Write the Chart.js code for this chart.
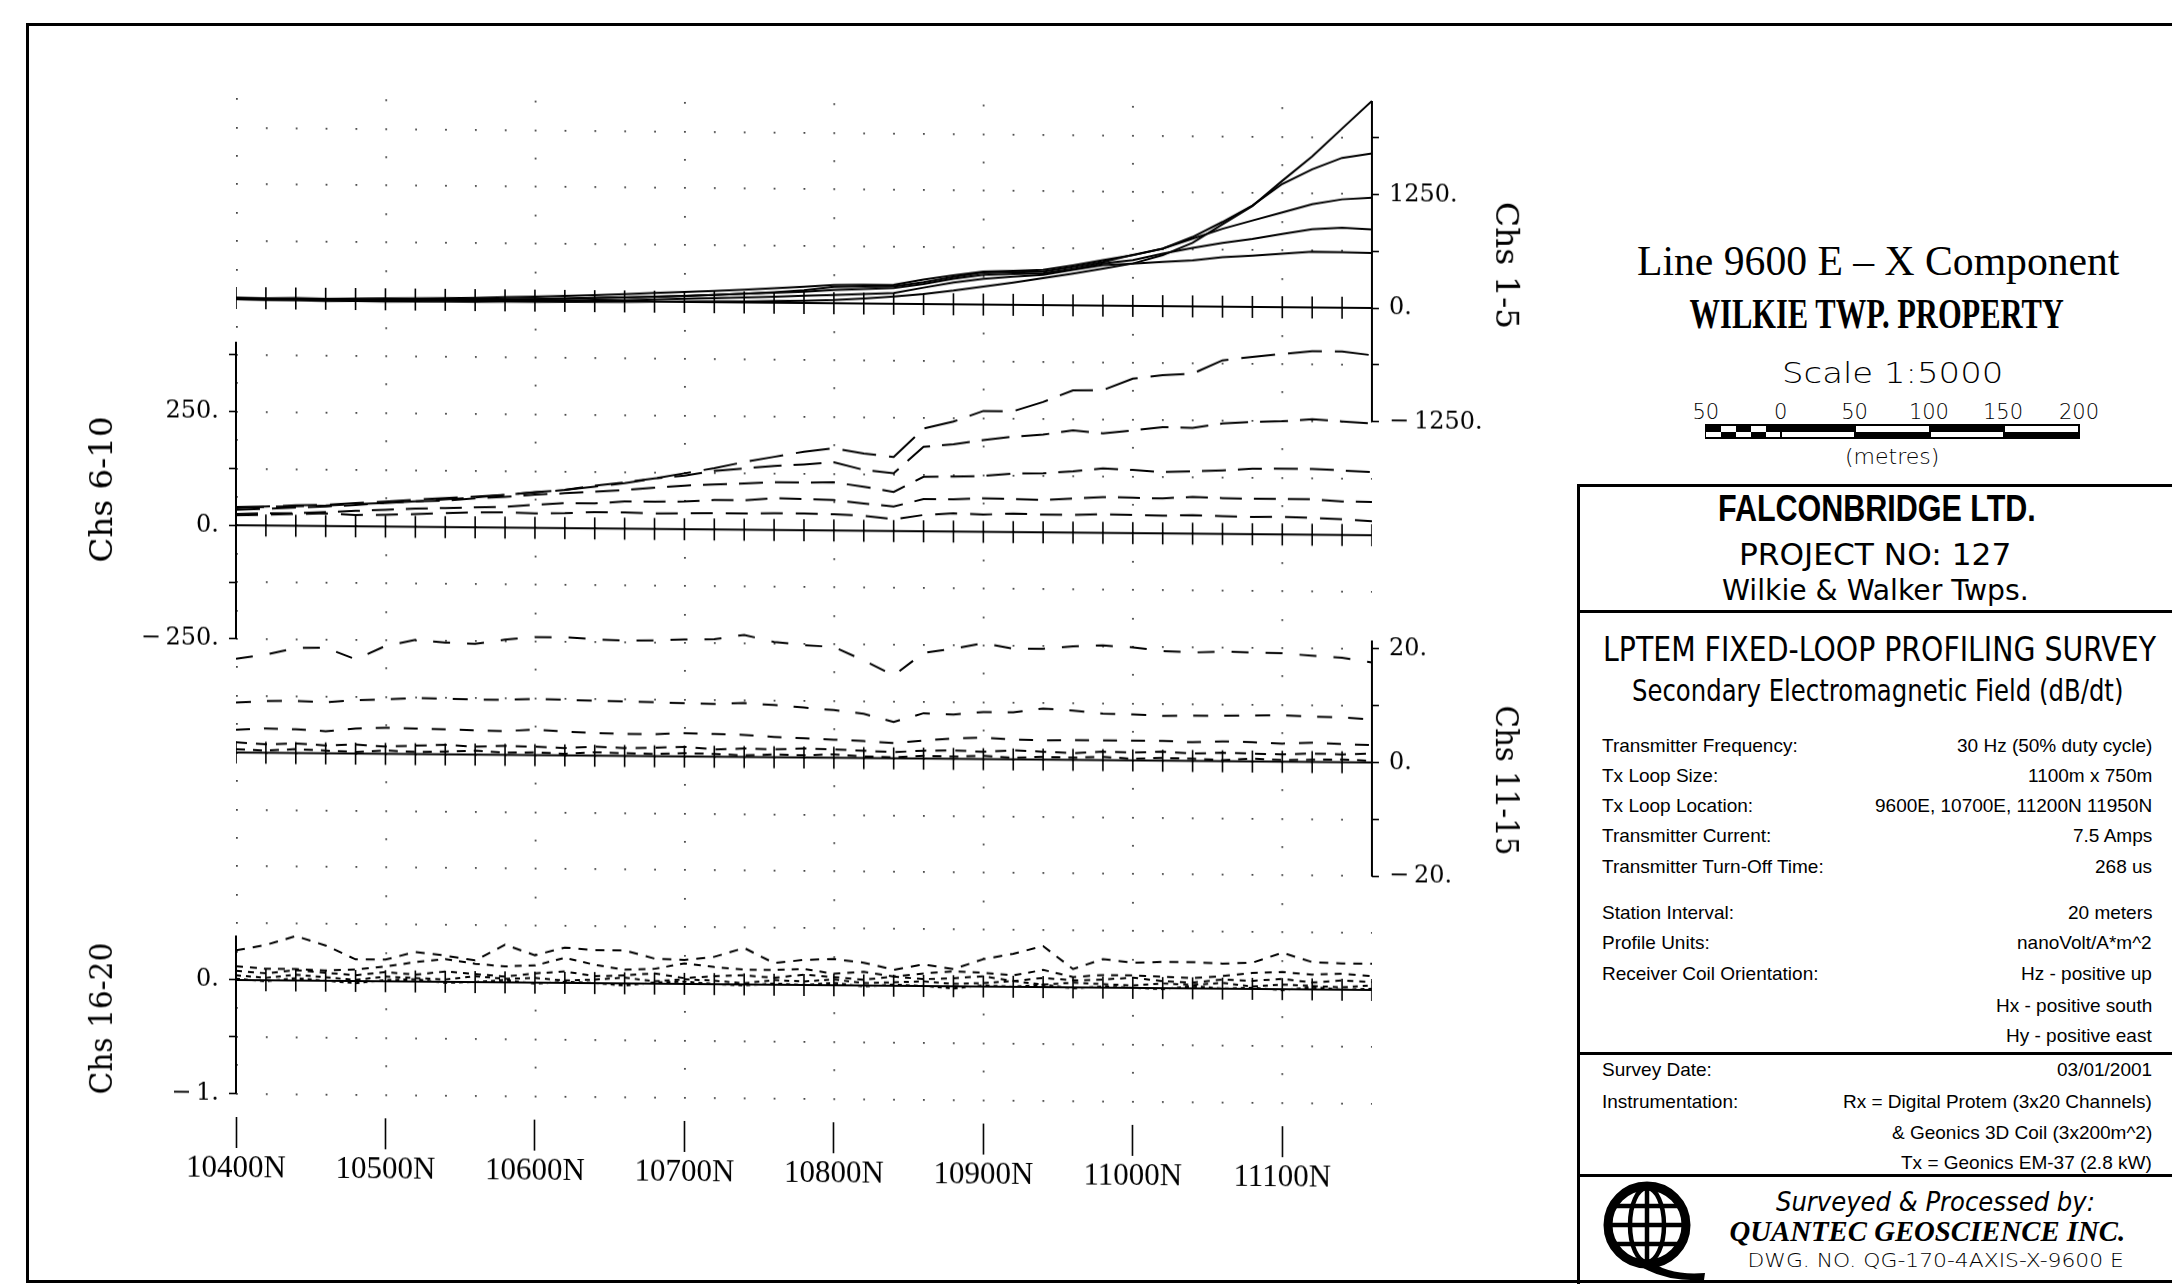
<!DOCTYPE html>
<html>
<head>
<meta charset="utf-8">
<script src="https://cdn.jsdelivr.net/npm/chart.js@4.4.1/dist/chart.umd.min.js"></script>
<style>
  html, body { margin: 0; padding: 0; background: #fff; }
  #page { position: relative; width: 2172px; height: 1287px; overflow: hidden; background: #fff; }
  /* the scanned sheet is slightly sheared: horizontal lines drop ~10px over the profile width */
  #plot { position: absolute; left: 0; top: 0; transform-origin: 236px 0; transform: skewY(0.504deg); }
  #frame { position: absolute; left: 26px; top: 23px; width: 2200px; height: 1260px;
           border: 3px solid #000; border-right: none; box-sizing: border-box; }
  .rule { position: absolute; background: #000; }
  .t { position: absolute; white-space: nowrap; color: #000; }
  .seg { position: absolute; }
</style>
</head>
<body>
<div id="page">
  <div id="frame"></div>
  <canvas id="plot" width="1560" height="1287"></canvas>

  <!-- title block rules -->
  <div class="rule" style="left:1577px;top:484px;width:3px;height:800px"></div>
  <div class="rule" style="left:1577px;top:484px;width:600px;height:3px"></div>
  <div class="rule" style="left:1577px;top:610px;width:600px;height:3px"></div>
  <div class="rule" style="left:1577px;top:1052px;width:600px;height:3px"></div>
  <div class="rule" style="left:1577px;top:1174px;width:600px;height:3px"></div>

  <svg style="position:absolute;left:1597px;top:1181px" width="110" height="100" viewBox="0 0 110 100">
    <g fill="none" stroke="#000">
      <circle cx="50" cy="44" r="39" stroke-width="9"/>
      <ellipse cx="50" cy="44" rx="17" ry="37" stroke-width="4.5"/>
      <line x1="50" y1="7" x2="50" y2="81" stroke-width="4.5"/>
      <line x1="11" y1="44" x2="89" y2="44" stroke-width="4.5"/>
      <line x1="16" y1="25" x2="84" y2="25" stroke-width="4.5"/>
      <line x1="16" y1="63" x2="84" y2="63" stroke-width="4.5"/>
    </g>
    <path d="M52 79 Q72 95 108 92 L107 99 Q68 101 43 85 Z" fill="#000"/>
  </svg>
</div>

<script>
// stations along the line (northing, m)
const stations = [10400, 10420, 10440, 10460, 10480, 10500, 10520, 10540, 10560, 10580,
  10600, 10620, 10640, 10660, 10680, 10700, 10720, 10740, 10760, 10780,
  10800, 10820, 10840, 10860, 10880, 10900, 10920, 10940, 10960, 10980,
  11000, 11020, 11040, 11060, 11080, 11100, 11120, 11140, 11160];
const xTicks = [10400, 10500, 10600, 10700, 10800, 10900, 11000, 11100];

// Chs 1-5
const ch1 = [-15, -20, -18, -25, -22, -25, -22, -20, -18, -15, -15, -12, -8, -5, 0, 5, 8, 12, 18, 25,
  35, 55, 80, 110, 150, 199, 245, 296, 350, 408, 466, 560, 700, 907, 1110, 1390, 1660, 1970, 2277];
const ch2 = [0, -5, 0, -8, -5, -5, 0, 5, 10, 15, 20, 28, 35, 45, 55, 65, 80, 95, 115, 140,
  180, 186, 193, 240, 300, 353, 360, 369, 420, 482, 560, 632, 764, 932, 1116, 1355, 1520, 1648, 1700];
const ch3 = [5, 0, 5, 0, 5, 10, 15, 20, 25, 35, 45, 55, 65, 80, 95, 110, 125, 140, 160, 180,
  200, 205, 210, 270, 320, 364, 375, 387, 440, 500, 557, 633, 745, 857, 950, 1043, 1135, 1192, 1212];
const ch4 = [-5, -10, -5, -10, -5, -5, 0, 5, 10, 15, 20, 25, 35, 45, 55, 65, 80, 95, 110, 125,
  145, 160, 174, 220, 280, 328, 340, 350, 400, 464, 503, 578, 643, 702, 748, 805, 860, 880, 863];
const ch5 = [-10, -15, -10, -15, -15, -10, -10, -5, -5, 0, 0, 5, 10, 15, 25, 35, 45, 55, 65, 80,
  92, 105, 119, 180, 240, 284, 310, 332, 390, 445, 466, 486, 506, 545, 564, 588, 613, 611, 606];

// Chs 6-10
const ch6 = [40, 42, 45, 47, 51, 55, 60, 64, 68, 72, 79, 84, 92, 100, 111, 123, 135, 149, 161, 173,
  181, 170, 163, 226, 242, 266, 266, 287, 313, 314, 340, 348, 352, 382, 390, 397, 404, 404, 396];
const ch7 = [38, 41, 43, 45, 49, 52, 56, 61, 66, 72, 78, 84, 94, 102, 111, 118, 129, 135, 141, 145,
  150, 134, 127, 186, 192, 202, 210, 215, 225, 219, 226, 234, 233, 243, 247, 249, 254, 250, 246];
const ch8 = [34, 37, 40, 43, 47, 52, 56, 58, 64, 68, 73, 77, 81, 85, 91, 96, 99, 102, 105, 105,
  106, 97, 86, 120, 121, 123, 129, 130, 135, 142, 139, 135, 137, 140, 144, 145, 145, 142, 139];
const ch9 = [25, 27, 28, 31, 34, 37, 40, 42, 44, 46, 51, 55, 55, 60, 60, 61, 65, 65, 70, 69,
  67, 60, 54, 71, 71, 74, 73, 71, 75, 79, 78, 77, 81, 79, 78, 78, 78, 74, 73];
const ch10 = [22, 24, 26, 28, 25, 26, 28, 31, 33, 34, 32, 33, 36, 36, 34, 35, 36, 36, 37, 37,
  36, 33, 26, 36, 40, 38, 41, 39, 39, 41, 40, 39, 41, 39, 38, 39, 37, 35, 31];

// Chs 11-15
const ch11 = [16.5, 17.3, 18.5, 18.6, 16.6, 19.0, 20.1, 19.7, 19.5, 20.3, 20.8, 20.8, 20.5, 20.3, 20.4,
  20.6, 20.7, 21.5, 20.3, 19.8, 19.5, 17.2, 14.6, 18.6, 19.4, 20.4, 19.5, 19.5, 20.0, 20.2,
  19.9, 19.3, 19.1, 19.3, 19.2, 19.1, 18.7, 18.4, 17.6];
const ch12 = [8.8, 9.1, 9.2, 9.0, 9.4, 9.6, 9.9, 9.8, 9.7, 9.7, 9.9, 9.8, 9.7, 9.6, 9.5,
  9.4, 9.3, 9.5, 9.2, 8.8, 8.4, 7.8, 6.4, 8.0, 7.8, 8.3, 8.3, 9.0, 8.7, 8.2,
  8.1, 7.9, 8.0, 8.0, 8.1, 8.2, 8.0, 7.9, 7.6];
const ch13 = [4.0, 4.3, 4.2, 3.9, 4.4, 4.6, 4.5, 4.4, 4.3, 4.2, 4.5, 4.2, 4.0, 3.9, 3.9,
  4.1, 4.0, 3.9, 3.6, 3.4, 3.2, 3.0, 2.7, 3.2, 3.6, 3.8, 3.5, 3.4, 3.5, 3.5,
  3.5, 3.5, 3.3, 3.5, 3.4, 3.2, 3.4, 3.2, 3.1];
const ch14 = [1.8, 1.5, 1.7, 1.4, 1.6, 1.3, 1.5, 1.7, 1.4, 1.6, 1.5, 1.3, 1.6, 1.4, 1.5,
  1.7, 1.3, 1.5, 1.4, 1.6, 1.5, 1.3, 1.1, 1.4, 1.5, 1.3, 1.6, 1.4, 1.2, 1.5,
  1.4, 1.6, 1.3, 1.5, 1.4, 1.3, 1.5, 1.4, 1.6];
const ch15 = [0.6, 0.4, 0.7, 0.5, 0.3, 0.6, 0.4, 0.5, 0.7, 0.4, 0.5, 0.3, 0.6, 0.5, 0.4,
  0.6, 0.5, 0.3, 0.5, 0.4, 0.6, 0.3, 0.2, 0.5, 0.4, 0.6, 0.3, 0.5, 0.4, 0.6,
  0.3, 0.5, 0.4, 0.2, 0.5, 0.3, 0.4, 0.5, 0.3];

// Chs 16-20
const ch16 = [0.26, 0.31, 0.39, 0.31, 0.19, 0.19, 0.26, 0.23, 0.19, 0.33, 0.24, 0.31, 0.29, 0.29, 0.22,
  0.21, 0.24, 0.32, 0.19, 0.22, 0.23, 0.20, 0.14, 0.19, 0.15, 0.24, 0.29, 0.36, 0.16, 0.25,
  0.22, 0.23, 0.23, 0.22, 0.23, 0.32, 0.24, 0.23, 0.23];
const ch17 = [0.12, 0.10, 0.10, 0.09, 0.10, 0.13, 0.17, 0.20, 0.16, 0.14, 0.15, 0.22, 0.16, 0.12, 0.13,
  0.18, 0.15, 0.13, 0.13, 0.14, 0.10, 0.12, 0.08, 0.11, 0.13, 0.12, 0.10, 0.15, 0.09, 0.11,
  0.11, 0.10, 0.09, 0.11, 0.14, 0.15, 0.13, 0.14, 0.12];
const ch18 = [0.08, 0.06, 0.09, 0.07, 0.05, 0.08, 0.06, 0.09, 0.07, 0.05, 0.08, 0.10, 0.06, 0.07, 0.09,
  0.05, 0.07, 0.08, 0.06, 0.09, 0.07, 0.05, 0.08, 0.06, 0.07, 0.09, 0.05, 0.08, 0.06, 0.07,
  0.09, 0.06, 0.05, 0.08, 0.07, 0.09, 0.06, 0.08, 0.07];
const ch19 = [0.04, 0.02, 0.05, 0.03, 0.01, 0.04, 0.03, 0.02, 0.05, 0.03, 0.04, 0.02, 0.03, 0.05, 0.02,
  0.04, 0.03, 0.01, 0.04, 0.03, 0.05, 0.02, 0.03, 0.04, 0.02, 0.03, 0.05, 0.02, 0.04, 0.03,
  0.02, 0.04, 0.03, 0.05, 0.02, 0.04, 0.03, 0.02, 0.04];
const ch20 = [0.01, -0.01, 0.02, 0.00, -0.02, 0.01, 0.02, -0.01, 0.00, 0.02, -0.01, 0.01, 0.00, -0.02, 0.01,
  0.02, 0.00, -0.01, 0.01, 0.00, 0.02, -0.01, 0.01, 0.00, -0.02, 0.01, 0.00, 0.02, -0.01, 0.01,
  0.00, -0.01, 0.02, 0.00, 0.01, -0.01, 0.02, 0.00, 0.01];

// axis ticks and labelled values per panel
const ticks1 = [-1250, -625, 0, 625, 1250, 1875], labels1 = [-1250, 0, 1250];
const ticks2 = [-250, -125, 0, 125, 250, 375], labels2 = [-250, 0, 250];
const ticks3 = [-20, -10, 0, 10, 20], labels3 = [-20, 0, 20];
const ticks4 = [-1, -0.5, 0], labels4 = [-1, 0];

// layout of the profile area (pixels, before the shear)
const TOP = 88, BOTTOM = 1117, STEP = 113.65;

const panels = [
  { id: 'y1', pos: 'right', weight: 5, width: 188, unit: 1250, zero: 298, ticks: ticks1, labels: labels1,
    series: [ch1, ch2, ch3, ch4, ch5], dash: [[], [], [], [], []] },
  { id: 'y2', pos: 'left', weight: 5, width: 0, unit: 250, zero: 298 + 2 * STEP, ticks: ticks2, labels: labels2,
    series: [ch6, ch7, ch8, ch9, ch10], dash: [[34, 13], [28, 12], [24, 12], [22, 12], [22, 13]] },
  { id: 'y3', pos: 'right', weight: 0, width: 0, unit: 20, zero: 298 + 4 * STEP, ticks: ticks3, labels: labels3,
    series: [ch11, ch12, ch13, ch14, ch15], dash: [[17, 17], [15, 16], [14, 14], [11, 9], [9, 8]] },
  { id: 'y4', pos: 'left', weight: 10, width: 236, unit: 1, zero: 298 + 6 * STEP, ticks: ticks4, labels: labels4,
    series: [ch16, ch17, ch18, ch19, ch20], dash: [[9, 8], [7, 7], [6, 6], [5, 5], [4, 4]] }
];

function span(p) {
  const ppu = STEP / p.unit;
  return { min: -(BOTTOM - p.zero) / ppu, max: (p.zero - TOP) / ppu };
}
const pts = arr => stations.map((s, i) => ({ x: s, y: arr[i] }));
const fmt = v => (v < 0 ? '\u2212\u2009' + (-v) : String(v)) + '.';

const datasets = [];
const scales = {
  x: {
    type: 'linear', position: 'bottom', min: 10400, max: 11160,
    afterBuildTicks: s => { s.ticks = xTicks.map(v => ({ value: v })); },
    afterFit: s => { s.height = 170; },
    grid: { drawOnChartArea: false, drawTicks: true, tickLength: 31, tickWidth: 1.6, tickColor: '#000' },
    border: { display: false },
    ticks: { callback: v => v + 'N', color: '#000', padding: 2, maxRotation: 0, autoSkip: false,
             font: { family: 'Liberation Serif', size: 31 } }
  }
};

panels.forEach(p => {
  const r = span(p);
  scales[p.id] = {
    type: 'linear', position: p.pos, weight: p.weight, min: r.min, max: r.max,
    afterBuildTicks: s => { s.ticks = p.ticks.map(v => ({ value: v })); },
    afterFit: s => { s.width = p.width; },
    grid: { drawOnChartArea: false, drawTicks: true, tickLength: 7, tickWidth: 1.6, tickColor: '#000' },
    border: { display: false },
    ticks: { callback: v => p.labels.includes(v) ? fmt(v) : '', color: '#000', padding: 10,
             autoSkip: false, font: { family: 'DejaVu Serif', size: 24 } }
  };
  // zero line with station marks
  datasets.push({
    data: pts(stations.map(() => 0)), yAxisID: p.id, borderColor: '#000', borderWidth: 2,
    pointStyle: 'line', pointRotation: 90, pointRadius: 11, pointBorderWidth: 1.6,
    pointBorderColor: '#000', pointBackgroundColor: '#000'
  });
  p.series.forEach((s, i) => {
    datasets.push({
      data: pts(s), yAxisID: p.id, borderColor: '#000', borderWidth: 2,
      borderDash: p.dash[i], pointRadius: 0, tension: 0
    });
  });
});

// dotted background: dense rows (dot every station) and sparse rows (dot every 100 m)
const r1 = span(panels[0]);
const rowStep = 1250 / 4;
const denseRows = [], sparseRows = [];
for (let k = -7; k <= 28; k++) (k % 2 === 0 ? denseRows : sparseRows).push(-k * rowStep);
[['gd', denseRows, [1.8, 28.07], 1], ['gs', sparseRows, [1.8, 147.55], 0]].forEach(([id, rows, dash, w]) => {
  scales[id] = {
    type: 'linear', position: 'left', weight: w, min: r1.min, max: r1.max,
    afterBuildTicks: s => { s.ticks = rows.map(v => ({ value: v })); },
    afterFit: s => { s.width = 0; },
    ticks: { display: false },
    grid: { drawOnChartArea: true, drawTicks: false, color: '#444', lineWidth: 1.8 },
    border: { display: false, dash: dash }
  };
});

// the zero-width axes share their neighbour's side: open their label clip box
const shareSide = {
  id: 'shareSide',
  afterLayout(chart) {
    panels.forEach(p => {
      const s = chart.scales[p.id];
      if (p.pos === 'left') s.left = 0; else s.right = chart.width;
    });
  }
};

// axis lines only over each panel's own range
const axisLines = {
  id: 'axisLines',
  afterDatasetsDraw(chart) {
    const ctx = chart.ctx, a = chart.chartArea;
    ctx.save();
    ctx.strokeStyle = '#000';
    ctx.lineWidth = 2;
    panels.forEach(p => {
      const s = chart.scales[p.id];
      const hi = Math.max(p.ticks[p.ticks.length - 1], ...p.series.flat());
      const x = p.pos === 'left' ? a.left : a.right;
      ctx.beginPath();
      ctx.moveTo(x, s.getPixelForValue(p.ticks[0]));
      ctx.lineTo(x, s.getPixelForValue(hi));
      ctx.stroke();
    });
    ctx.restore();
  }
};

new Chart(document.getElementById('plot'), {
  type: 'line',
  data: { datasets },
  options: {
    responsive: false, animation: false, events: [], devicePixelRatio: 1,
    layout: { padding: { top: TOP, left: 0, right: 0, bottom: 0 } },
    plugins: { legend: { display: false }, tooltip: { enabled: false } },
    scales
  },
  plugins: [shareSide, axisLines]
});

// ---- text ----
const page = document.getElementById('page');
const thin = "'DejaVu Sans'";
function put(txt, x, y, size, family, opt = {}) {
  const el = document.createElement('div');
  el.className = 't';
  el.textContent = txt;
  el.style.font = `${opt.style || 'normal'} ${opt.weight || 400} ${size}px ${family}`;
  el.style.lineHeight = size + 'px';
  page.appendChild(el);
  const w = el.offsetWidth;
  const a = opt.align || 'c';
  el.style.left = (a === 'c' ? x - w / 2 : a === 'l' ? x : x - w) + 'px';
  el.style.top = (y - size / 2) + 'px';
  el.style.transformOrigin = a === 'c' ? 'center' : a === 'l' ? 'left center' : 'right center';
  let tf = opt.w ? `scaleX(${opt.w / w})` : '';
  if (opt.rot) tf = `rotate(${opt.rot}deg) ` + tf;
  el.style.transform = tf;
}

// panel titles
put('Chs 1-5', 1506, 265, 31, "'DejaVu Serif'", { rot: 90, w: 127 });
put('Chs 11-15', 1506, 780, 31, "'DejaVu Serif'", { rot: 90, w: 150 });
put('Chs 6-10', 101, 489, 31, "'DejaVu Serif'", { rot: -90, w: 146 });
put('Chs 16-20', 101, 1018, 31, "'DejaVu Serif'", { rot: -90, w: 152 });

// heading
put('Line 9600 E \u2013 X Component', 1878, 261, 42, "'Liberation Serif'", { w: 482 });
put('WILKIE TWP. PROPERTY', 1876, 314, 42, "'Liberation Serif'", { weight: 700, w: 374 });
put('Scale 1:5000', 1892, 373, 29, thin, { weight: 300, w: 221 });
const barLabels = ['50', '0', '50', '100', '150', '200'];
const barX = [1706, 1780.5, 1854.7, 1928.9, 2003, 2079];
barLabels.forEach((s, i) => put(s, barX[i], 412, 21, thin, { weight: 300 }));
put('(metres)', 1892, 457, 22, thin, { weight: 300 });

// scale bar
function seg(x0, x1, y0, y1, c) {
  const d = document.createElement('div');
  d.className = 'seg';
  Object.assign(d.style, { left: x0 + 'px', top: y0 + 'px', width: (x1 - x0) + 'px', height: (y1 - y0) + 'px', background: c });
  page.appendChild(d);
}
seg(1705, 2080, 424, 439, '#000');
for (let i = 0; i < 5; i++) {
  const x0 = 1706 + i * 14.9, x1 = x0 + 14.9;
  seg(x0, x1, i % 2 ? 426 : 431.5, i % 2 ? 431.5 : 437, '#fff');
}
for (let i = 0; i < 4; i++) {
  const x0 = 1780.5 + i * 74.6, x1 = x0 + 74.6;
  seg(x0 + 1, x1 - 1, i % 2 ? 426 : 431.5, i % 2 ? 431.5 : 437, '#fff');
}

put('FALCONBRIDGE LTD.', 1877, 508, 37, "'Liberation Sans'", { weight: 700, w: 318 });
put('PROJECT NO: 127', 1875, 554, 31, thin, { w: 272 });
put('Wilkie & Walker Twps.', 1875, 590, 29, thin, { w: 307 });
put('LPTEM FIXED-LOOP PROFILING SURVEY', 1879, 649, 34, thin, { w: 553 });
put('Secondary Electromagnetic Field (dB/dt)', 1877, 691, 30, thin, { w: 491 });

const rows = [
  ['Transmitter Frequency:', '30 Hz (50% duty cycle)', 745],
  ['Tx Loop Size:', '1100m x 750m', 775],
  ['Tx Loop Location:', '9600E, 10700E, 11200N 11950N', 805],
  ['Transmitter Current:', '7.5 Amps', 835],
  ['Transmitter Turn-Off Time:', '268 us', 866],
  ['Station Interval:', '20 meters', 912],
  ['Profile Units:', 'nanoVolt/A*m^2', 942],
  ['Receiver Coil Orientation:', 'Hz - positive up', 973],
  ['', 'Hx - positive south', 1005],
  ['', 'Hy - positive east', 1035],
  ['Survey Date:', '03/01/2001', 1069],
  ['Instrumentation:', 'Rx = Digital Protem (3x20 Channels)', 1101],
  ['', '& Geonics 3D Coil (3x200m^2)', 1132],
  ['', 'Tx = Geonics EM-37 (2.8 kW)', 1162]
];
rows.forEach(([l, r, y]) => {
  if (l) put(l, 1602, y, 19, "'Liberation Sans'", { align: 'l' });
  put(r, 2152, y, 19, "'Liberation Sans'", { align: 'r' });
});

put('Surveyed & Processed by:', 1935, 1202, 26, thin, { style: 'italic', weight: 300, w: 319 });
put('QUANTEC GEOSCIENCE INC.', 1927, 1231, 30, "'Liberation Serif'", { style: 'italic', weight: 700, w: 396 });
put('DWG. NO. QG-170-4AXIS-X-9600 E', 1935, 1260, 19, thin, { weight: 300, w: 376 });
</script>
</body>
</html>
